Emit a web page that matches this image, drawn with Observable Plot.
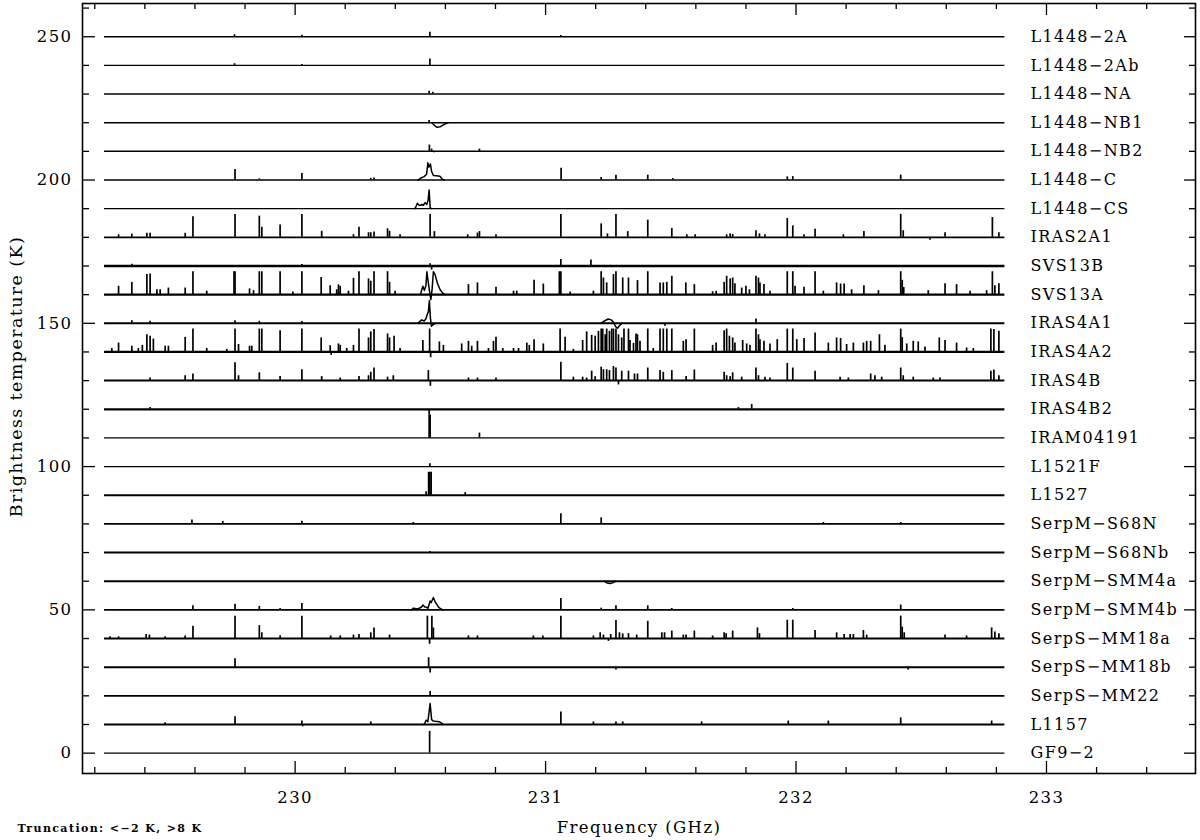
<!DOCTYPE html>
<html><head><meta charset="utf-8">
<script src="https://cdn.jsdelivr.net/npm/d3@7"></script>
<script src="https://cdn.jsdelivr.net/npm/@observablehq/plot@0.6"></script>
<style>
html,body{margin:0;padding:0;background:#fff;}
#chart svg text{letter-spacing:1.4px;}
</style></head><body><div id="chart"></div>
<script>
// ---- data ----
const sources = ["L1448−2A","L1448−2Ab","L1448−NA","L1448−NB1","L1448−NB2","L1448−C","L1448−CS","IRAS2A1","SVS13B","SVS13A","IRAS4A1","IRAS4A2","IRAS4B","IRAS4B2","IRAM04191","L1521F","L1527","SerpM−S68N","SerpM−S68Nb","SerpM−SMM4a","SerpM−SMM4b","SerpS−MM18a","SerpS−MM18b","SerpS−MM22","L1157","GF9−2"];
const offsets = [250,240,230,220,210,200,190,180,170,160,150,140,130,120,110,100,90,80,70,60,50,40,30,20,10,0];
const bandStart = 229.239, bandEnd = 232.834;
const xMajorTicks = [230,231,232,233];
const xMinorTicks = [229.2,229.4,229.6,229.8,230.2,230.4,230.6,230.8,231.2,231.4,231.6,231.8,232.2,232.4,232.6,232.8,233.2,233.4];
const yMajorTicks = [0,50,100,150,200,250];
const yMinorTicks = [10,20,30,40,60,70,80,90,110,120,130,140,160,170,180,190,210,220,230,240,260];

// narrow lines: [frequency GHz, brightness K] (truncated to -2..8 K)
const L1448_2A = [[229.758,0.7],[230.027,0.5],[230.538,1.6],[231.061,0.4]];
const L1448_2Ab = [[229.758,0.6],[230.027,0.3],[230.538,2.2]];
const L1448_NA = [[230.535,1.0],[230.55,0.6]];
const L1448_NB1 = [[230.535,0.8]];
const L1448_NB2 = [[230.536,2.2],[230.545,0.8],[230.555,-0.5],[230.736,0.8]];
const L1448_C = [[229.760,3.7],[229.857,0.4],[230.027,2.3],[230.302,0.6],[230.315,0.7],[231.062,4.1],[231.222,0.9],[231.281,1.7],[231.408,1.7],[231.508,0.5],[231.965,1.1],[231.987,1.2],[232.418,1.7]];
const L1448_CS = [];
const IRAS2A1 = [[229.295,0.9],[229.348,1.1],[229.408,1.4],[229.421,1.4],[229.561,1.4],[229.592,7.2],[229.760,8],[229.857,7.4],[229.867,3.5],[229.940,4.3],[230.027,8],[230.106,2.1],[230.233,0.9],[230.255,3.5],[230.293,1.6],[230.302,1.6],[230.315,1.9],[230.369,3.0],[230.377,2.1],[230.419,0.9],[230.539,8],[230.556,2],[230.689,0.9],[230.728,1.5],[230.736,2],[230.802,0.9],[231.061,8],[231.222,4.7],[231.247,1.2],[231.281,8],[231.328,2],[231.408,6],[231.504,3.1],[231.564,0.9],[231.597,0.9],[231.723,0.9],[231.737,1.2],[231.747,1.0],[231.840,2.3],[231.854,1.2],[231.876,0.9],[231.965,6.6],[231.987,4],[232.032,0.9],[232.076,2.8],[232.189,0.9],[232.271,2],[232.418,8],[232.428,2.3],[232.535,-1],[232.595,1.6],[232.784,6.9],[232.810,1.6]];
const SVS13B = [[229.348,0.6],[230.027,0.5],[230.539,0.8],[230.545,-1.4],[231.061,2.3],[231.181,2.1]];
const SVS13A = [[229.295,2.9],[229.348,4.3],[229.408,7.0],[229.421,7.2],[229.448,1.7],[229.461,1.7],[229.494,2.3],[229.561,2.3],[229.592,8],[229.647,1.2],[229.756,8],[229.760,8],[229.818,2],[229.834,1.4],[229.857,8],[229.867,8],[229.940,8],[229.991,0.9],[230.027,8],[230.104,6],[230.140,3.1],[230.166,1.7],[230.173,3.4],[230.180,2.9],[230.213,1.2],[230.233,5.7],[230.255,8],[230.293,5.5],[230.302,4.7],[230.315,8],[230.369,8],[230.377,4.3],[230.399,1.2],
 [230.692,3.5],[230.728,4.1],[230.802,2.6],[230.872,1.2],[230.885,1.2],[230.954,5],[230.991,3.7],[231.055,8],[231.061,8],[231.098,0.9],[231.191,1.2],[231.222,8],[231.231,5.8],[231.244,4.1],[231.271,7],[231.281,8],[231.308,5.8],[231.331,5.8],[231.367,4.9],[231.408,8],[231.457,4.1],[231.470,4.1],[231.484,4.3],[231.504,6.4],[231.560,4.1],[231.594,3.5],
 [231.667,1.0],[231.681,1.2],[231.713,4.3],[231.723,6.4],[231.737,5.5],[231.747,5.8],[231.756,3.8],[231.783,2.3],[231.800,2.9],[231.814,1.7],[231.840,6.4],[231.850,5.8],[231.856,4.1],[231.872,3.5],[231.896,1.2],[231.965,8],[231.987,8],[231.996,2.9],[232.032,2.6],[232.076,8],[232.109,1.2],[232.162,4.1],[232.178,3.7],[232.192,3.7],[232.222,1.7],[232.271,3.1],[232.329,1.4],[232.418,8],[232.424,5],[232.430,2.5],[232.528,1.4],[232.595,3.8],[232.641,3.5],[232.695,1.2],[232.761,1.4],[232.784,8],[232.794,3.1],[232.810,3.8]];
const IRAS4A1 = [[229.348,0.9],[229.421,0.7],[229.760,0.9],[229.857,0.7],[230.027,0.6],[231.477,-1],[231.840,1.5]];
const IRAS4A2 = [[229.268,1.2],[229.295,3.1],[229.348,2],[229.374,1.2],[229.390,2.3],[229.408,6],[229.421,5.5],[229.434,4.5],[229.481,2],[229.494,2],[229.561,5.1],[229.592,8],[229.647,1.2],[229.727,0.9],[229.760,8],[229.774,2.6],[229.818,2],[229.827,2],[229.857,8],[229.867,8],[229.940,7.4],[230.027,8],[230.104,4.9],[230.140,2.2],[230.144,-1.2],[230.173,2.8],[230.180,2.3],[230.206,1.2],[230.233,2.3],[230.255,8],[230.293,4.9],[230.302,7],[230.315,7.8],[230.369,6.3],[230.377,4.9],[230.395,5.5],[230.419,1.2],
 [230.510,4],[230.537,8],[230.541,-2],[230.576,3.5],[230.592,2.3],[230.665,2.8],[230.692,3.7],[230.705,2],[230.728,3.7],[230.772,1.2],[230.792,3.7],[230.802,5.1],[230.829,1.2],[230.872,1.2],[230.892,1.2],[230.925,3.1],[230.935,2.3],[230.954,4.3],[230.991,2.8],[231.058,8],[231.078,5.1],[231.111,0.9],[231.148,4],[231.164,7],[231.184,5.8],[231.198,5.5],[231.211,7.2],[231.222,8],[231.228,8],[231.238,6],[231.244,8],[231.255,7.2],[231.264,8],[231.271,8],[231.281,8],[231.291,6],[231.304,4.9],[231.313,8],[231.331,8],[231.337,4],[231.351,3],[231.361,6.3],[231.367,6],[231.377,3.7],[231.408,8],[231.430,1.2],[231.457,8],[231.470,8],[231.484,8],[231.504,8],[231.550,3.7],[231.561,4.3],[231.594,8],
 [231.667,2.3],[231.681,3.1],[231.713,7.4],[231.723,8],[231.734,5.5],[231.747,4.9],[231.756,3.1],[231.787,4],[231.803,2.8],[231.816,2.3],[231.840,8],[231.850,6],[231.856,4.3],[231.872,3.7],[231.896,2.8],[231.925,4.3],[231.965,8],[231.987,8],[232.003,4.3],[232.032,4.7],[232.076,6.6],[232.129,3.1],[232.162,4.9],[232.178,4.7],[232.202,2.6],[232.229,3.1],[232.269,3.1],[232.282,3.7],[232.298,3.7],[232.333,6],[232.355,2.3],[232.418,8],[232.424,5],[232.442,2.8],[232.468,3.7],[232.488,3.5],[232.515,1.7],[232.572,4.9],[232.595,4],[232.641,3.1],[232.681,1.4],[232.708,1.2],[232.778,8],[232.790,7.8],[232.810,7.2]];
const IRAS4B = [[229.421,0.9],[229.561,1.7],[229.592,2.3],[229.760,6.2],[229.774,1.7],[229.857,2.7],[229.940,1.4],[230.027,3.8],[230.106,1.4],[230.180,0.9],[230.255,1.4],[230.293,1.7],[230.302,2.9],[230.315,4.4],[230.369,1.2],[230.392,1.7],
 [230.532,3.5],[230.540,-2],[230.692,0.9],[230.728,0.9],[230.802,0.9],[231.061,6.4],[231.111,1.2],[231.148,1.2],[231.164,0.9],[231.184,3.3],[231.198,1.4],[231.222,4.7],[231.231,3.8],[231.244,3.8],[231.255,3.5],[231.271,4.9],[231.281,4.4],[231.291,-1.5],[231.304,3.3],[231.331,3.3],[231.355,2.3],[231.367,2.3],[231.408,4.4],[231.457,3.5],[231.470,2.9],[231.504,3.5],[231.561,1.4],[231.594,3.7],
 [231.713,2.9],[231.723,1.7],[231.737,1.4],[231.747,2.7],[231.783,1.2],[231.840,4.4],[231.850,1.7],[231.876,1.2],[231.896,0.9],[231.965,6],[231.987,4.4],[232.076,3.3],[232.176,1.2],[232.209,0.9],[232.298,2.3],[232.315,1.7],[232.342,1.2],[232.418,4.4],[232.428,1.7],[232.468,1.2],[232.548,0.9],[232.575,0.9],[232.778,3.3],[232.790,3.7],[232.810,1.7]];
const IRAS4B2 = [[229.421,0.6],[230.535,-2],[231.770,0.6],[231.823,1.7]];
const IRAM04191 = [[230.535,8],[230.539,8],[230.736,1.7]];
const L1521F = [[230.538,1.0]];
const L1527 = [[230.523,1.2],[230.533,8],[230.538,8],[230.543,8],[230.679,0.9]];
const SerpM_S68N = [[229.588,1.4],[229.711,0.9],[230.027,0.9],[230.472,0.5],[231.061,3.5],[231.222,2.1],[232.109,0.5],[232.418,0.5]];
const SerpM_S68Nb = [[230.538,0.4]];
const SerpM_SMM4a = [];
const SerpM_SMM4b = [[229.592,1.4],[229.760,2],[229.857,1.2],[229.940,0.5],[230.027,2.2],[231.061,4],[231.222,0.6],[231.281,1.4],[231.408,1.4],[231.504,0.5],[231.987,0.5],[232.418,1.7]];
const SerpS_MM18a = [[229.261,0.6],[229.295,0.6],[229.405,1.4],[229.418,1.2],[229.481,0.6],[229.561,0.9],[229.592,4.3],[229.760,7.8],[229.857,4.5],[229.867,2],[229.940,1],[230.027,7.8],[230.142,0.9],[230.180,0.9],[230.233,1.2],[230.255,1.4],[230.302,2],[230.315,3.7],[230.377,1.2],
 [230.528,7.8],[230.537,-2],[230.546,7.8],[230.552,3.7],[230.692,0.9],[230.728,0.9],[230.951,0.9],[230.989,0.9],[231.061,7.8],[231.191,0.9],[231.218,2],[231.231,1.2],[231.251,-1],[231.260,1.4],[231.281,6.3],[231.295,2],[231.308,1.6],[231.331,1.7],[231.364,1.2],[231.408,6],[231.464,2],[231.475,2],[231.504,2.6],[231.550,1.2],[231.561,1.2],[231.594,2.6],
 [231.667,0.9],[231.713,2],[231.721,1.7],[231.747,2.6],[231.846,3.7],[231.854,1.7],[231.965,6.4],[231.987,6.4],[232.076,2.8],[232.162,2],[232.192,1.4],[232.216,1.4],[232.229,1.4],[232.269,2.8],[232.282,1.2],[232.418,7.8],[232.424,4],[232.432,2],[232.595,1.2],[232.681,0.9],[232.781,3.7],[232.794,2.3],[232.810,1.7]];
const SerpS_MM18b = [[229.760,2.9],[230.533,3.3],[230.539,-2],[231.281,-1],[232.448,-1]];
const SerpS_MM22 = [[230.539,1.5]];
const L1157 = [[229.481,0.6],[229.760,2.7],[230.027,1.2],[230.030,-0.8],[230.302,0.9],[231.061,4.4],[231.191,0.9],[231.281,0.9],[231.308,0.9],[231.623,0.9],[231.969,1.2],[232.129,1.2],[232.418,2.3],[232.781,1.2]];
const GF9_2 = [[230.537,7.6]];

// broad profiles (connected samples, K above each baseline)
const L1448_NB1_CO = [[230.545,0],[230.555,-0.8],[230.565,-1.6],[230.58,-1.4],[230.595,-0.6],[230.61,0]];
const L1448_C_CO = [[230.49,0],[230.50,0.6],[230.515,1.2],[230.525,2],[230.530,6],[230.534,4.5],[230.540,5.6],[230.545,3],[230.552,1.6],[230.565,1.5],[230.578,1.3],[230.588,0.3],[230.595,0]];
const L1448_CS_CO = [[230.478,0],[230.484,1.0],[230.488,1.9],[230.495,1.2],[230.503,1.2],[230.506,1.5],[230.512,1.2],[230.519,2.1],[230.526,1.5],[230.531,3],[230.535,6.5],[230.539,0.5],[230.543,0]];
const SVS13A_CO = [[230.500,0],[230.510,2.9],[230.516,1.5],[230.522,3],[230.526,8],[230.532,4],[230.537,1],[230.542,-1.7],[230.547,2],[230.552,8],[230.559,7],[230.568,4],[230.579,1.7],[230.59,0.5],[230.60,0]];
const IRAS4A1_CO = [[230.49,0],[230.505,1.2],[230.515,0.8],[230.522,1.5],[230.526,2.7],[230.532,4],[230.536,8],[230.540,2],[230.544,-1],[230.55,-0.5],[230.56,0]];
const IRAS4A1_231 = [[231.22,0],[231.235,0.8],[231.25,1.5],[231.262,1.2],[231.272,0.3],[231.28,-1.2],[231.287,-1.7],[231.295,-0.8],[231.305,0]];
const SerpM_SMM4a_dip = [[231.235,0],[231.245,-0.6],[231.258,-0.8],[231.27,-0.5],[231.28,0]];
const SerpM_SMM4b_CO = [[230.465,0],[230.472,0.6],[230.49,0.3],[230.505,1.0],[230.510,1.7],[230.518,1.0],[230.526,0.9],[230.530,0.5],[230.539,3.1],[230.543,2.5],[230.552,4.3],[230.558,3],[230.565,2],[230.572,1],[230.579,0.5],[230.59,0]];
const L1157_CO = [[230.515,0],[230.523,1.5],[230.530,1.0],[230.539,7.3],[230.545,1.7],[230.552,1.2],[230.56,1.1],[230.575,1.0],[230.585,0.5],[230.59,0]];

const spectra = [L1448_2A,L1448_2Ab,L1448_NA,L1448_NB1,L1448_NB2,L1448_C,L1448_CS,IRAS2A1,SVS13B,SVS13A,IRAS4A1,IRAS4A2,IRAS4B,IRAS4B2,IRAM04191,L1521F,L1527,SerpM_S68N,SerpM_S68Nb,SerpM_SMM4a,SerpM_SMM4b,SerpS_MM18a,SerpS_MM18b,SerpS_MM22,L1157,GF9_2];
const profileList = [["L1448−NB1",L1448_NB1_CO],["L1448−C",L1448_C_CO],["L1448−CS",L1448_CS_CO],["SVS13A",SVS13A_CO],["IRAS4A1",IRAS4A1_CO],["IRAS4A1",IRAS4A1_231],["SerpM−SMM4a",SerpM_SMM4a_dip],["SerpM−SMM4b",SerpM_SMM4b_CO],["L1157",L1157_CO]];

// ---- styles (baseline noise appearance) ----
const baseWidth = {"L1448−2A":1.3,"L1448−2Ab":1.3,"L1448−NA":1.5,"L1448−NB1":1.5,"L1448−NB2":1.5,"L1448−C":1.5,"L1448−CS":1.3,"IRAS2A1":1.9,"SVS13B":2.4,"SVS13A":2.4,"IRAS4A1":1.9,"IRAS4A2":2.3,"IRAS4B":2.0,"IRAS4B2":2.3,"IRAM04191":1.3,"L1521F":1.3,"L1527":2.1,"SerpM−S68N":1.9,"SerpM−S68Nb":1.9,"SerpM−SMM4a":1.9,"SerpM−SMM4b":1.9,"SerpS−MM18a":1.9,"SerpS−MM18b":1.9,"SerpS−MM22":1.9,"L1157":2.0,"GF9−2":1.4};

// ---- tables ----
const rows = sources.map((name, i) => ({name, offset: offsets[i]}));
const spikes = spectra.flatMap((pk, i) => pk.map(([f, t]) => ({f, y1: offsets[i], y2: offsets[i] + t})));
const profilePts = profileList.flatMap(([src, pts], k) => pts.map(([f, t]) => ({k, f, y: offsets[sources.indexOf(src)] + t})));

const mL = 82, mR = 5, mT = 3, mB = 67, W = 1200, H = 840;
const frameW = W - mL - mR, frameH = H - mT - mB;
const font = "DejaVu Serif";

const chart = Plot.plot({
  width: W, height: H,
  marginLeft: mL, marginRight: mR, marginTop: mT, marginBottom: mB,
  x: {domain: [229.151, 233.595], axis: null},
  y: {domain: [-7.1, 261.6], axis: null},
  style: {fontFamily: font, fontSize: "16px", color: "black", background: "white"},
  marks: [
    Plot.ruleY(rows, {y: "offset", x1: bandStart, x2: bandEnd, stroke: "black", strokeWidth: d => baseWidth[d.name]}),
    Plot.ruleX(spikes, {x: "f", y1: "y1", y2: "y2", stroke: "black", strokeWidth: 1.7}),
    Plot.line(profilePts, {x: "f", y: "y", z: "k", stroke: "black", strokeWidth: 1.5, curve: "linear"}),
    // inward ticks
    Plot.tickX(xMajorTicks, {x: d => d, insetTop: frameH - 12, stroke: "black", strokeWidth: 1.3}),
    Plot.tickX(xMinorTicks, {x: d => d, insetTop: frameH - 6, stroke: "black", strokeWidth: 1.3}),
    Plot.tickX(xMajorTicks, {x: d => d, insetBottom: frameH - 12, stroke: "black", strokeWidth: 1.3}),
    Plot.tickX(xMinorTicks, {x: d => d, insetBottom: frameH - 6, stroke: "black", strokeWidth: 1.3}),
    Plot.tickY(yMajorTicks, {y: d => d, insetRight: frameW - 13, stroke: "black", strokeWidth: 1.3}),
    Plot.tickY(yMinorTicks, {y: d => d, insetRight: frameW - 7, stroke: "black", strokeWidth: 1.3}),
    Plot.tickY(yMajorTicks, {y: d => d, insetLeft: frameW - 11, stroke: "black", strokeWidth: 1.3}),
    Plot.tickY(yMinorTicks, {y: d => d, insetLeft: frameW - 6, stroke: "black", strokeWidth: 1.3}),
    Plot.frame({stroke: "black", strokeWidth: 1.6}),
    // tick labels
    Plot.text(xMajorTicks, {x: d => d, frameAnchor: "bottom", dy: 29, textAnchor: "middle", lineAnchor: "bottom", text: d => String(d), fontSize: 16.5, fill: "black"}),
    Plot.text(yMajorTicks, {y: d => d, frameAnchor: "left", dx: -10, textAnchor: "end", text: d => String(d), fontSize: 16.5, fill: "black"}),
    // source labels
    Plot.text(rows, {y: "offset", frameAnchor: "right", dx: -165, textAnchor: "start", text: "name", fontSize: 16, fill: "black"}),
    // axis titles
    Plot.text(["Frequency (GHz)"], {frameAnchor: "bottom", dy: 59, textAnchor: "middle", lineAnchor: "bottom", text: d => d, fontSize: 16.5, fill: "black"}),
    Plot.text(["Brightness temperature (K)"], {frameAnchor: "left", dx: -61, dy: -12, rotate: -90, textAnchor: "middle", lineAnchor: "bottom", text: d => d, fontSize: 17.5, fill: "black"}),
    Plot.text(["Truncation: <−2 K, >8 K"], {frameAnchor: "bottom-left", dx: -65, dy: 58, textAnchor: "start", lineAnchor: "bottom", text: d => d, fontSize: 11, fontWeight: "bold", fill: "black"})
  ]
});
document.getElementById("chart").appendChild(chart);
</script></body></html>
